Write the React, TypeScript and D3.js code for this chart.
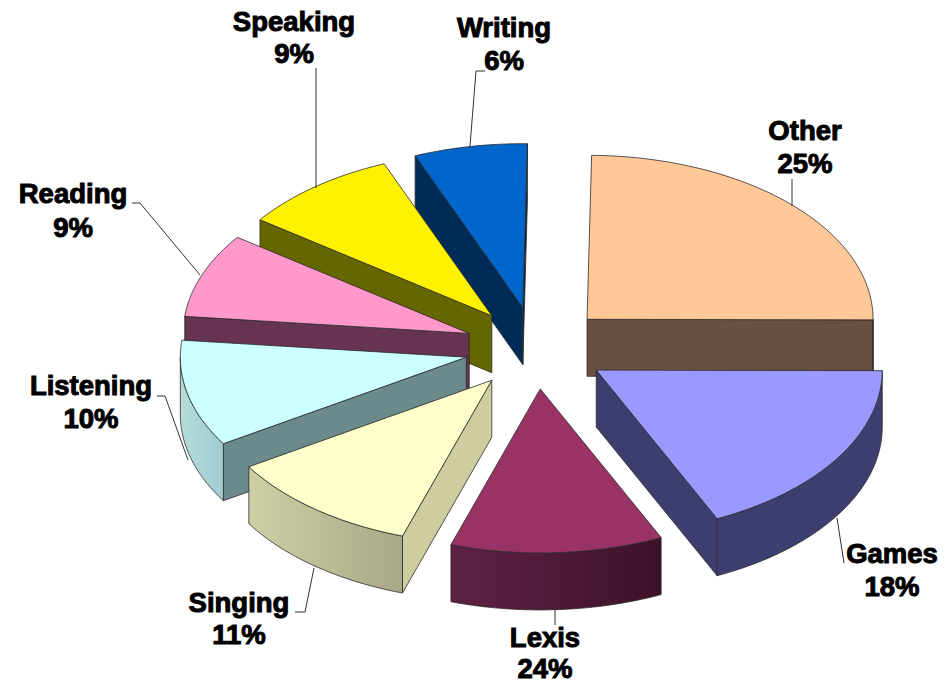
import * as d3 from 'd3'

// slices run clockwise from just past 12 o'clock
const categories = ['Other', 'Games', 'Lexis', 'Singing', 'Listening', 'Reading', 'Speaking', 'Writing']
// share of the pie as drawn
const sliceShares = [24.8, 18, 12, 11.1, 10.5, 8.3, 8.9, 6.4]
// percentages as printed on the labels (Lexis prints 24% on a 12% slice)
const printedPercents = [25, 18, 24, 11, 10, 9, 9, 6]

const topColors = ['#FFC896', '#9999FF', '#993366', '#FFFFCC', '#CCFFFF', '#FF99CC', '#FFF200', '#0066CC']
const cutColors = ['#6B5040', '#3D3D70', '#4A1830', '#CDCDA0', '#6B8A8C', '#663350', '#666600', '#002B57']
const wallLeft = ['#806048', '#3D3D70', '#5E2145', '#CFCFA6', '#B4DCDC', '#803A60', '#808000', '#003366']
const wallRight = ['#806048', '#3D3D70', '#3E1228', '#A8A888', '#A0CCD0', '#803A60', '#808000', '#003366']

const labelCenterX = [805, 892, 545, 239, 91, 73, 294, 504]
const nameBaseline = [140, 563, 647, 612, 395, 203, 31, 37]
const percentBaseline = [173, 596, 678, 644, 428, 237, 63, 70]
const leaders: [number, number][][] = [
  [[792, 179], [792, 206]],
  [[837, 518], [844, 563]],
  [[555, 610], [555, 625]],
  [[314, 568], [305, 612], [295, 612]],
  [[188, 460], [165, 396], [157, 396]],
  [[200, 275], [140, 203], [132, 203]],
  [[316, 68], [316, 188]],
  [[470, 146], [476, 71], [485, 71]],
]

const width = 951
const height = 685
const cx = 536
const cy = 348
const rx = 286
const ry = 164
const depth = 57
const explode = 0.25
const rotation = 0.016

type P = [number, number]
const line = d3.line()

export default function App() {
  const pie = d3.pie<number>().sort(null).startAngle(rotation).endAngle(2 * Math.PI + rotation)
  const arcs = pie(sliceShares)

  // * Unit circle to screen, clock angle measured from 12 o'clock
  const xScale = d3.scaleLinear().domain([-1, 1]).range([-rx, rx])
  const yScale = d3.scaleLinear().domain([-1, 1]).range([-ry, ry])

  const slices = arcs.map((a, i) => {
    const mid = (a.startAngle + a.endAngle) / 2
    const ax = cx + xScale(Math.sin(mid)) * explode
    const ay = cy - yScale(Math.cos(mid)) * explode
    const rim = (t: number): P => [ax + xScale(Math.sin(t)), ay - yScale(Math.cos(t))]
    const sweep = (from: number, to: number): P[] => {
      const n = Math.max(2, Math.ceil(Math.abs(to - from) / 0.01))
      return d3.range(n + 1).map((k) => rim(from + ((to - from) * k) / n))
    }
    return { i, mid, a, apex: [ax, ay] as P, rim, sweep }
  })

  // * Painter's order, back of the pie first
  const ordered = [...slices].sort((p, q) => d3.ascending(-Math.cos(p.mid), -Math.cos(q.mid)))
  const drop = (p: P): P => [p[0], p[1] + depth]

  return (
    <svg width={width} height={height} style={{ position: 'absolute', left: 0, top: 0, background: '#fff' }}>
      <defs>
        {categories.map((c, i) => (
          <linearGradient key={c} id={`wall-${i}`} x1="0" x2="1" y1="0" y2="0">
            <stop offset="0" stopColor={wallLeft[i]} />
            <stop offset="1" stopColor={wallRight[i]} />
          </linearGradient>
        ))}
      </defs>
      {ordered.map((s) => {
        const { i, a, apex, rim, sweep } = s
        const faces: { d: string; fill: string }[] = []
        // * Cut faces, only the ones turned towards the viewer
        const cut = (t: number) => {
          const r = rim(t)
          faces.push({ d: line([apex, r, drop(r), drop(apex)])! + 'Z', fill: cutColors[i] })
        }
        if (Math.sin(a.startAngle) < 0) cut(a.startAngle)
        if (Math.sin(a.endAngle) > 0) cut(a.endAngle)
        // * Outer wall, only the front half of the rim
        const from = Math.max(a.startAngle, Math.PI / 2)
        const to = Math.min(a.endAngle, (3 * Math.PI) / 2)
        if (to > from) {
          const edge = sweep(from, to)
          faces.push({ d: line([...edge, ...edge.map(drop).reverse()])! + 'Z', fill: `url(#wall-${i})` })
        }
        const top = line([apex, ...sweep(a.startAngle, a.endAngle)])! + 'Z'
        return (
          <g key={categories[i]} stroke="#2a2a2a" strokeWidth={0.8} strokeLinejoin="round">
            {faces.map((f, k) => (
              <path key={k} d={f.d} fill={f.fill} />
            ))}
            <path d={top} fill={topColors[i]} />
          </g>
        )
      })}
      {leaders.map((pts, i) => (
        <path key={i} d={line(pts)!} fill="none" stroke="#333" strokeWidth={1} />
      ))}
      {categories.map((c, i) => (
        <text
          key={c}
          textAnchor="middle"
          fontFamily="'Liberation Sans', Arial, sans-serif"
          fontWeight="bold"
          fontSize={27.5}
          fill="#000"
          stroke="#000"
          strokeWidth={1}
        >
          <tspan x={labelCenterX[i]} y={nameBaseline[i]}>{c}</tspan>
          <tspan x={labelCenterX[i]} y={percentBaseline[i]}>{printedPercents[i]}%</tspan>
        </text>
      ))}
    </svg>
  )
}
